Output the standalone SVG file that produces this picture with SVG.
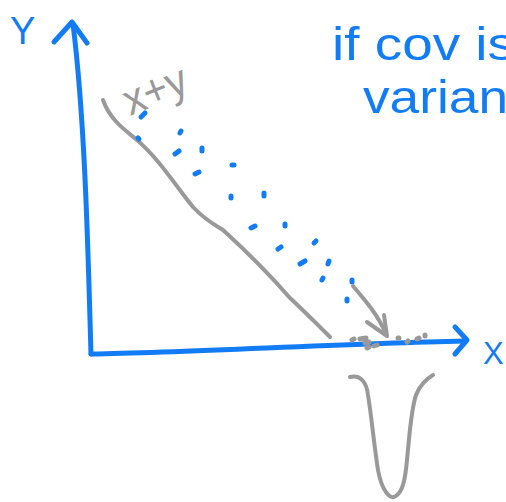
<svg xmlns="http://www.w3.org/2000/svg" width="506" height="502" viewBox="0 0 506 502">
<style>
.b{fill:none;stroke:#127cf6;stroke-width:5;stroke-linecap:round;stroke-linejoin:round}
.g{fill:none;stroke:#999;stroke-width:4;stroke-linecap:round;stroke-linejoin:round}
.bd{stroke:#127cf6;stroke-width:5;stroke-linecap:round}
.gd{stroke:#999;stroke-width:5;stroke-linecap:round}
.bt{fill:#127cf6;font-family:"Liberation Sans",sans-serif}
.gt{fill:#999;font-family:"Liberation Sans",sans-serif}
</style>
<rect width="506" height="502" fill="#fff"/>
<g id="axes">
<path class="b" d="M91,354 C88,250 85,120 73,24"/>
<path class="b" d="M54,42 L72,22 L87,43"/>
<path class="b" d="M91,354 C200,352 330,344 465,341"/>
<path class="b" d="M455,327 L467,340 L455,354"/>
</g>
<g id="labels">
<text class="bt" x="10" y="44" font-size="38">Y</text>
<text class="bt" x="483" y="364" font-size="31">X</text>
<text class="bt" x="332" y="60" font-size="46" textLength="183" lengthAdjust="spacingAndGlyphs">if cov is</text>
<text class="bt" x="363" y="113" font-size="46" textLength="145" lengthAdjust="spacingAndGlyphs">varian</text>
<text class="gt" x="130" y="116" font-size="44" textLength="66" lengthAdjust="spacingAndGlyphs" transform="rotate(-22 130 116)">x+y</text>
</g>
<g id="line">
<path class="g" d="M103,100 C110,120 125,130 137,140 C160,160 175,185 193,207 C205,220 215,225 223,230 C245,250 270,275 290,298 C305,312 318,325 330,337"/>
</g>
<g id="dots">
<path class="bd" d="M141,117 L145,113 M180,133 L181,131 M138,138 L139,139 M175,154 L179,151 M202,148 L202,151 M232,165 L234,165 M195,174 L199,172 M231,196 L231,198 M264,193 L264,196 M251,228 L255,226 M285,224 L285,226 M314,243 L316,241 M278,249 L281,247 M300,264 L305,261 M329,261 L328,264 M323,278 L322,280 M352,280 L352,282 M347,299 L347,301"/>
</g>
<g id="arrow">
<path class="g" d="M353,286 C365,300 378,315 386,334"/>
<path class="g" d="M367,322 L387,336 L384,315"/>
</g>
<g id="projected">
<path class="gd" d="M352,340 L354,339 M360,339 L366,338 M365,343 L369,342 M367,348 L369,347 M374,346 L377,345 M398,338 L399,338 M407,342 L408,341 M417,339 L419,338 M425,336 L425,335"/>
</g>
<g id="density">
<path class="g" d="M350,377 C362,374 367,385 368,395 C372,420 374,445 378,470 C382,492 390,498 394,497 C402,494 405,482 407,460 C410,430 411,410 416,395 C420,385 428,378 433,375"/>
</g>
</svg>
